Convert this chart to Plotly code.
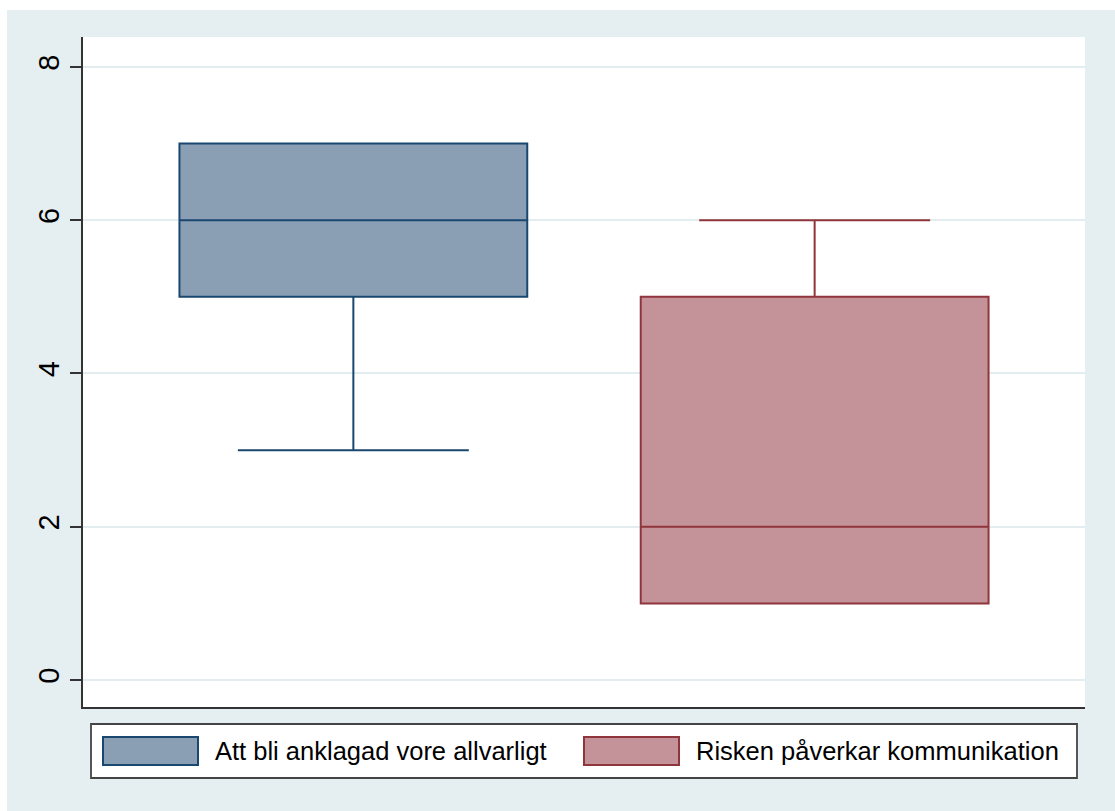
import plotly.graph_objects as go

# Summary statistics for each group (Stata-style box plot)
groups = ["Att bli anklagad vore allvarligt", "Risken påverkar kommunikation"]
positions = [1, 2]
q1_vals = [5, 1]
median_vals = [6, 2]
q3_vals = [7, 5]
lower_fence = [3, 1]
upper_fence = [7, 6]

line_colors = ["#1A476F", "#90353B"]
fill_colors = ["#8A9FB4", "#C4939A"]

y_ticks = [0, 2, 4, 6, 8]

FONT = "Liberation Sans, Arial, Helvetica, sans-serif"
BG = "#E5EEF0"

fig = go.Figure()
for i, name in enumerate(groups):
    fig.add_trace(go.Box(
        name=name,
        x=[positions[i]],
        q1=[q1_vals[i]],
        median=[median_vals[i]],
        q3=[q3_vals[i]],
        lowerfence=[lower_fence[i]],
        upperfence=[upper_fence[i]],
        width=0.754,
        whiskerwidth=0.664,
        fillcolor=fill_colors[i],
        line=dict(color=line_colors[i], width=2),
        boxpoints=False,
        showlegend=False,
        hoverinfo="skip",
    ))

# Paper-coordinate helpers (plot area spans 83..1085 px horizontally, 37..707 px vertically)
def px_x(px):
    return (px - 83) / 1002.0

def px_y(py):
    return (707 - py) / 670.0

shapes = [
    # thin white frame at the top and left edge of the canvas
    dict(type="rect", xref="paper", yref="paper", x0=px_x(0), x1=px_x(1115),
         y0=px_y(10), y1=px_y(0), fillcolor="white", line=dict(width=0), layer="above"),
    dict(type="rect", xref="paper", yref="paper", x0=px_x(0), x1=px_x(7),
         y0=px_y(811), y1=px_y(0), fillcolor="white", line=dict(width=0), layer="above"),
    # legend frame
    dict(type="rect", xref="paper", yref="paper", x0=px_x(91), x1=px_x(1077),
         y0=px_y(778), y1=px_y(724), fillcolor="white",
         line=dict(color="#444444", width=1.8), layer="above"),
]

swatch_x = [(103, 198), (584, 679)]
text_x = [213, 694]
annotations = []
for i, name in enumerate(groups):
    shapes.append(dict(type="rect", xref="paper", yref="paper",
                       x0=px_x(swatch_x[i][0]), x1=px_x(swatch_x[i][1]),
                       y0=px_y(765), y1=px_y(737),
                       fillcolor=fill_colors[i],
                       line=dict(color=line_colors[i], width=2), layer="above"))
    annotations.append(dict(xref="paper", yref="paper", x=px_x(text_x[i]), y=px_y(751),
                            xanchor="left", yanchor="middle", showarrow=False,
                            text=name, font=dict(family=FONT, size=25.5, color="black")))

fig.update_layout(
    width=1115,
    height=811,
    margin=dict(l=83, r=30, t=37, b=104),
    paper_bgcolor=BG,
    plot_bgcolor="white",
    font=dict(family=FONT, size=25, color="black"),
    shapes=shapes,
    annotations=annotations,
    showlegend=False,
    xaxis=dict(
        range=[0.4139, 2.5861],
        showticklabels=False,
        ticks="",
        showgrid=False,
        zeroline=False,
        showline=True,
        linecolor="#333333",
        linewidth=1.8,
    ),
    yaxis=dict(
        range=[-0.352, 8.391],
        tickvals=y_ticks,
        ticktext=[str(v) for v in y_ticks],
        tickangle=-90,
        ticks="outside",
        ticklen=11,
        tickwidth=1.8,
        tickcolor="#333333",
        ticklabelstandoff=0,
        tickfont=dict(family=FONT, size=29, color="black"),
        showgrid=True,
        gridcolor="#E3EDEF",
        gridwidth=1.6,
        zeroline=False,
        showline=True,
        linecolor="#333333",
        linewidth=1.8,
    ),
)

fig.write_html("out.html")
